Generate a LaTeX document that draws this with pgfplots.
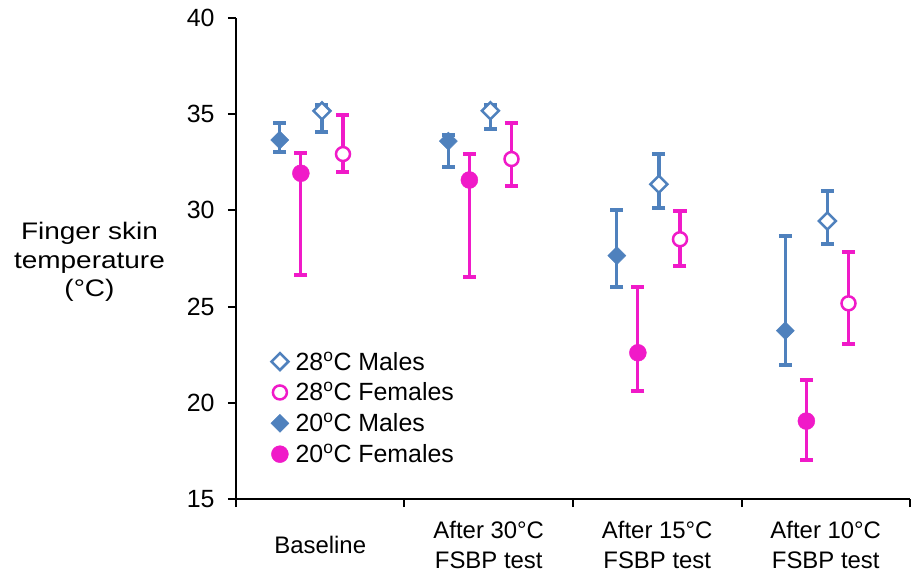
\documentclass[border=0pt]{standalone}
\usepackage{pgfplots}
\pgfplotsset{compat=1.18}
\usepackage{fontspec}
\setmainfont{Liberation Sans}
\definecolor{mblue}{RGB}{79,129,189}
\definecolor{mpink}{RGB}{240,26,200}

\pgfplotsset{
  errs/.style={
    error bars/y dir=both, error bars/y explicit,
    error bars/error bar style={line width=3.2bp, solid},
    error bars/error mark options={rotate=90, line width=4bp, mark size=6.5bp},
  },
}

\begin{document}
\begin{tikzpicture}
\path[use as bounding box] (-236bp,-76bp) rectangle (678bp,499bp);
\begin{axis}[
    at={(0,0)}, anchor=south west,
    scale only axis, width=674bp, height=481bp,
    xmin=0, xmax=4, ymin=15, ymax=40,
    axis x line=bottom, axis y line=left,
    axis line style={line width=2.2bp, -},
    tick align=outside, major tick length=8bp,
    every tick/.style={black, line width=2bp},
    xtick={0,1,2,3,4}, xticklabels={},
    extra x ticks={0.5,1.5,2.5,3.5},
    extra x tick labels={{Baseline},{After 30°C\\FSBP test},{After 15°C\\FSBP test},{After 10°C\\FSBP test}},
    extra x tick style={major tick length=0pt,
        tick label style={align=center, anchor=center, yshift=-46bp, font=\fontsize{24}{31}\selectfont}},
    ytick={15,20,...,40},
    yticklabel style={font=\fontsize{25}{30}\selectfont, xshift=-10bp},
    /pgf/number format/assume math mode=true,
    ylabel={Finger skin\\temperature\\(°C)},
    ylabel style={rotate=-90, xscale=1.17, align=center, at={(axis description cs:-0.2174,0.493)}, anchor=center,
        font=\fontsize{24}{29}\selectfont},
    legend style={at={(axis description cs:0.047,0.315)}, anchor=north west, draw=none, fill=none,
        font=\fontsize{25}{29}\selectfont, row sep=7bp},
    legend cell align=left,
    legend image code/.code={\path (0bp,0bp) (22bp,0bp);
        \draw[mark repeat=2,mark phase=2,#1] plot coordinates {(0bp,0bp)(8.5bp,0bp)(22bp,0bp)};},
]
% 28C males
\addplot[only marks, color=mblue, mark=square*, mark size=6bp, errs,
    mark options={rotate=45, fill=white, draw=mblue, line width=2.5bp, solid}]
  coordinates {
    (0.51,35.17) += (0,0.30) -= (0,1.08)
    (1.51,35.18) += (0,0.30) -= (0,0.97)
    (2.51,31.36) += (0,1.55) -= (0,1.22)
    (3.51,29.45) += (0,1.57) -= (0,1.21)
  };
\addlegendentry{28\textsuperscript{o}C Males}
% 28C females
\addplot[only marks, color=mpink, mark=*, mark size=7bp, errs,
    mark options={fill=white, draw=mpink, line width=2.5bp}]
  coordinates {
    (0.635,32.93) += (0,2.03) -= (0,0.95)
    (1.635,32.67) += (0,1.89) -= (0,1.40)
    (2.635,28.50) += (0,1.47) -= (0,1.39)
    (3.635,25.17) += (0,2.65) -= (0,2.13)
  };
\addlegendentry{28\textsuperscript{o}C Females}
% 20C males
\addplot[only marks, color=mblue, mark=square*, mark size=6.4bp, errs,
    mark options={rotate=45, fill=mblue, draw=mblue}]
  coordinates {
    (0.26,33.66) += (0,0.87) -= (0,0.61)
    (1.26,33.60) += (0,0.30) -= (0,1.33)
    (2.26,27.65) += (0,2.37) -= (0,1.62)
    (3.26,23.75) += (0,4.94) -= (0,1.79)
  };
\addlegendentry{20\textsuperscript{o}C Males}
% 20C females
\addplot[only marks, color=mpink, mark=*, mark size=8.5bp, errs,
    mark options={fill=mpink, draw=mpink}]
  coordinates {
    (0.385,31.93) += (0,1.07) -= (0,5.29)
    (1.385,31.58) += (0,1.35) -= (0,5.06)
    (2.385,22.60) += (0,3.40) -= (0,1.99)
    (3.385,19.05) += (0,2.13) -= (0,2.02)
  };
\addlegendentry{20\textsuperscript{o}C Females}
\end{axis}
\end{tikzpicture}
\end{document}
